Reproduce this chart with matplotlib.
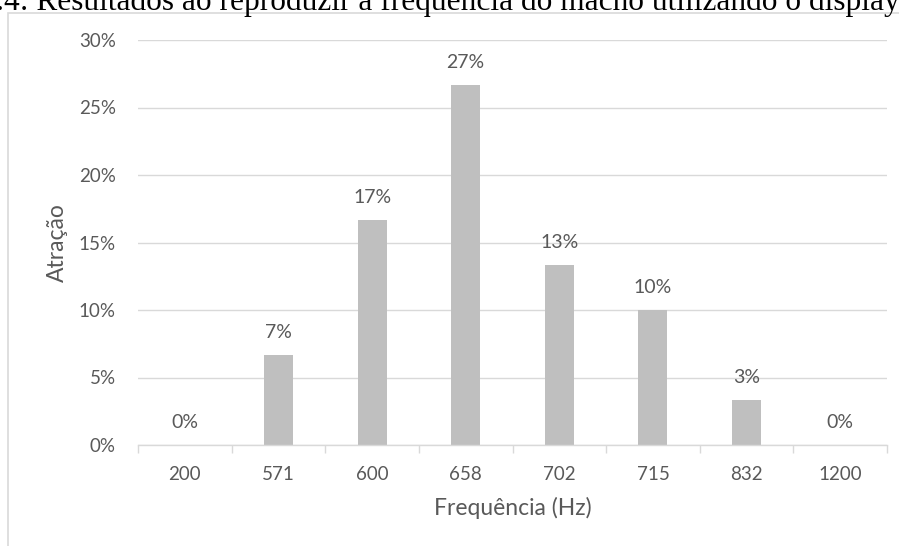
import matplotlib
matplotlib.use("Agg")
import matplotlib.pyplot as plt
from matplotlib.patches import Rectangle
from matplotlib.ticker import FuncFormatter, FixedLocator

categories = ["200", "571", "600", "658", "702", "715", "832", "1200"]
attraction = [0.0, 6.67, 16.67, 26.67, 13.33, 10.0, 3.33, 0.0]
value_labels = ["0%", "7%", "17%", "27%", "13%", "10%", "3%", "0%"]
y_ticks = [0, 5, 10, 15, 20, 25, 30]

W, H = 899, 546
fig = plt.figure(figsize=(W / 100, H / 100), dpi=100)
fig.patch.set_facecolor("white")

text_color = "#595959"
grid_color = "#d9d9d9"
font = ["Lato", "DejaVu Sans"]

# chart frame
fig.add_artist(Rectangle((8 / W, -0.1), 1.2, 1 - 12.5 / H + 0.1, transform=fig.transFigure,
                         fill=False, edgecolor=grid_color, linewidth=1.2))

# caption line above the chart
fig.text(-0.004, 1 - 10 / H, ".4: Resultados ao reproduzir a frequência do macho utilizando o display",
         family=["Liberation Serif"], fontsize=22.6, color="black", ha="left", va="baseline")

ax = fig.add_axes([138 / W, 1 - 445 / H, (887 - 138) / W, (445 - 40) / H])
x = list(range(len(categories)))
ax.bar(x, attraction, width=0.31, color="#bfbfbf", zorder=3)

for xi, v, lab in zip(x, attraction, value_labels):
    ax.annotate(lab, (xi, v), xytext=(0, 10), textcoords="offset points",
                ha="center", va="bottom", color=text_color, fontsize=14, family=font)

ax.set_xlim(-0.5, len(categories) - 0.5)
ax.set_ylim(0, 30)
ax.set_yticks(y_ticks)
ax.yaxis.set_major_formatter(FuncFormatter(lambda v, p: f"{v:.0f}%"))
ax.grid(axis="y", color=grid_color, linewidth=1, zorder=0)

ax.set_xticks(x)
ax.set_xticklabels(categories)
ax.xaxis.set_minor_locator(FixedLocator([i - 0.5 for i in range(len(categories) + 1)]))
ax.tick_params(axis="x", which="major", length=0, pad=15, labelsize=13.5, labelcolor=text_color)
ax.tick_params(axis="x", which="minor", length=6, color=grid_color, width=1)
ax.tick_params(axis="y", length=0, pad=16, labelsize=13.5, labelcolor=text_color)
for lab in ax.get_xticklabels() + ax.get_yticklabels():
    lab.set_family(font)

for s in ["top", "right", "left"]:
    ax.spines[s].set_visible(False)
ax.spines["bottom"].set_color(grid_color)
ax.spines["bottom"].set_linewidth(1)
ax.spines["bottom"].set_zorder(4)

ax.set_xlabel("Frequência (Hz)", color=text_color, fontsize=16.5, family=font, labelpad=10)
ax.set_ylabel("Atração", color=text_color, fontsize=16.5, family=font, labelpad=8)

fig.savefig("out.png", dpi=100)
